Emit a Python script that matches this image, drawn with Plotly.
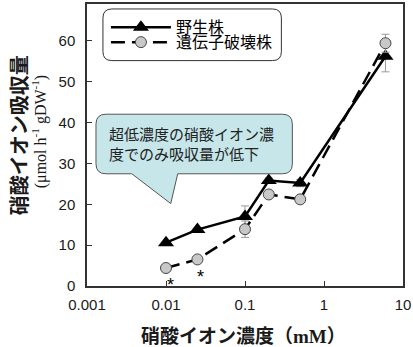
import plotly.graph_objects as go

# Nitrate concentration (mM) and uptake (µmol h-1 gDW-1)
conc = [0.01, 0.025, 0.1, 0.2, 0.5, 6]
wild = [10.6, 13.8, 17.0, 25.8, 25.2, 56.2]
wild_err = [0, 0, 2.6, 0.6, 0.9, 3.8]
mutant = [4.4, 6.5, 13.9, 22.4, 21.2, 59.4]
mutant_err = [0, 0, 2.0, 0, 0, 2.2]

x_ticks = [0.001, 0.01, 0.1, 1, 10]
x_tick_text = ["0.001", "0.01", "0.1", "1", "10"]
y_ticks = [0, 10, 20, 30, 40, 50, 60]

W, H = 413, 347
L, R, T, B = 87, 9, 2, 61
PW, PH = W - L - R, H - T - B


def px(x):
    return (x - L) / PW


def py(y):
    return (H - B - y) / PH


def rounded_path(x0, y0, x1, y1, r, tail=None):
    """Rounded rectangle in pixel coords -> paper path; optional tail on bottom edge."""
    rx, ry = r / PW, r / PH
    X0, X1 = px(x0), px(x1)
    Yt, Yb = py(y0), py(y1)
    p = f"M{X0 + rx},{Yt} L{X1 - rx},{Yt} Q{X1},{Yt} {X1},{Yt - ry} "
    p += f"L{X1},{Yb + ry} Q{X1},{Yb} {X1 - rx},{Yb} "
    if tail:
        (ta, tip, tb) = tail
        p += f"L{px(tb)},{Yb} L{px(tip[0])},{py(tip[1])} L{px(ta)},{Yb} "
    p += f"L{X0 + rx},{Yb} Q{X0},{Yb} {X0},{Yb + ry} L{X0},{Yt - ry} Q{X0},{Yt} {X0 + rx},{Yt} Z"
    return p


ink = "#1a1a1a"
fig = go.Figure()

fig.add_trace(go.Scatter(
    x=conc, y=wild, name="野生株", mode="lines+markers", legend="legend",
    line=dict(color="black", width=2.5),
    marker=dict(symbol="triangle-up", size=14, color="black"),
    error_y=dict(type="data", array=wild_err, color="#999999", thickness=1, width=4),
))
fig.add_trace(go.Scatter(
    x=conc, y=mutant, name="遺伝子破壊株", mode="lines+markers", legend="legend2",
    line=dict(color="black", width=2.5, dash="14px,7px"),
    marker=dict(symbol="circle", size=11, color="#c8c8c8", line=dict(color="#444444", width=1)),
    error_y=dict(type="data", array=mutant_err, color="#999999", thickness=1, width=4),
))

shapes = [
    dict(type="path", xref="paper", yref="paper",
         path=rounded_path(103, 7, 282, 59, 9),
         line=dict(color="#333333", width=1), fillcolor="white", layer="below"),
    dict(type="path", xref="paper", yref="paper",
         path=rounded_path(96, 113, 293, 173, 10, tail=(132, (171, 203), 178)),
         line=dict(color="#555555", width=1), fillcolor="#c6e6ea", layer="above"),
]

annotations = [
    dict(text="超低濃度の硝酸イオン濃<br>度でのみ吸収量が低下", xref="paper", yref="paper",
         x=px(107), y=py(142), xanchor="left", yanchor="middle", align="left",
         showarrow=False, font=dict(family="Noto Sans CJK JP", size=15, color="#222222")),
    dict(text="*", x=-1.94, y=0.2, xref="x", yref="y", showarrow=False,
         font=dict(family="Liberation Sans", size=18, color="black")),
    dict(text="*", x=-1.56, y=2.3, xref="x", yref="y", showarrow=False,
         font=dict(family="Liberation Sans", size=18, color="black")),
    dict(text="<b>硝酸イオン吸収量</b>", xref="paper", yref="paper",
         x=px(18), y=py(134), xanchor="center", yanchor="middle", textangle=-90,
         showarrow=False, font=dict(family="Noto Sans CJK JP", size=20, color=ink)),
    dict(text="(μmol h<sup>-1</sup> gDW<sup>-1</sup>)", xref="paper", yref="paper",
         x=px(39), y=py(131), xanchor="center", yanchor="middle", textangle=-90,
         showarrow=False, font=dict(family="Liberation Serif", size=16, color=ink)),
    dict(text="<b>硝酸イオン濃度（<span style='font-family:Liberation Serif'>mM</span>）</b>",
         xref="paper", yref="paper", x=px(244), y=py(335), xanchor="center", yanchor="middle",
         showarrow=False, font=dict(family="Noto Sans CJK JP", size=19, color=ink)),
]

legend_common = dict(xanchor="left", yanchor="middle", bgcolor="rgba(0,0,0,0)",
                     borderwidth=0, itemwidth=60,
                     font=dict(family="Noto Sans CJK JP", size=16, color="black"))

fig.update_layout(
    width=W, height=H, margin=dict(l=L, r=R, t=T, b=B),
    paper_bgcolor="white", plot_bgcolor="white",
    showlegend=True,
    legend=dict(x=px(106), y=py(25.5), **legend_common),
    legend2=dict(x=px(106), y=py(40.5), **legend_common),
    shapes=shapes, annotations=annotations,
    xaxis=dict(type="log", range=[-3, 1], tickvals=x_ticks, ticktext=x_tick_text,
               ticks="inside", ticklen=5, tickcolor="#333333", showgrid=False, zeroline=False,
               showline=True, linecolor="#333333", linewidth=1.5, mirror=True,
               ticklabelstandoff=4,
               tickfont=dict(family="Liberation Sans", size=15, color=ink)),
    yaxis=dict(range=[0, 69], tickvals=y_ticks,
               ticks="inside", ticklen=5, tickcolor="#333333", showgrid=False, zeroline=False,
               showline=True, linecolor="#333333", linewidth=1.5, mirror=True,
               ticklabelstandoff=7,
               tickfont=dict(family="Liberation Sans", size=15, color=ink)),
)

fig.write_html("out.html")
